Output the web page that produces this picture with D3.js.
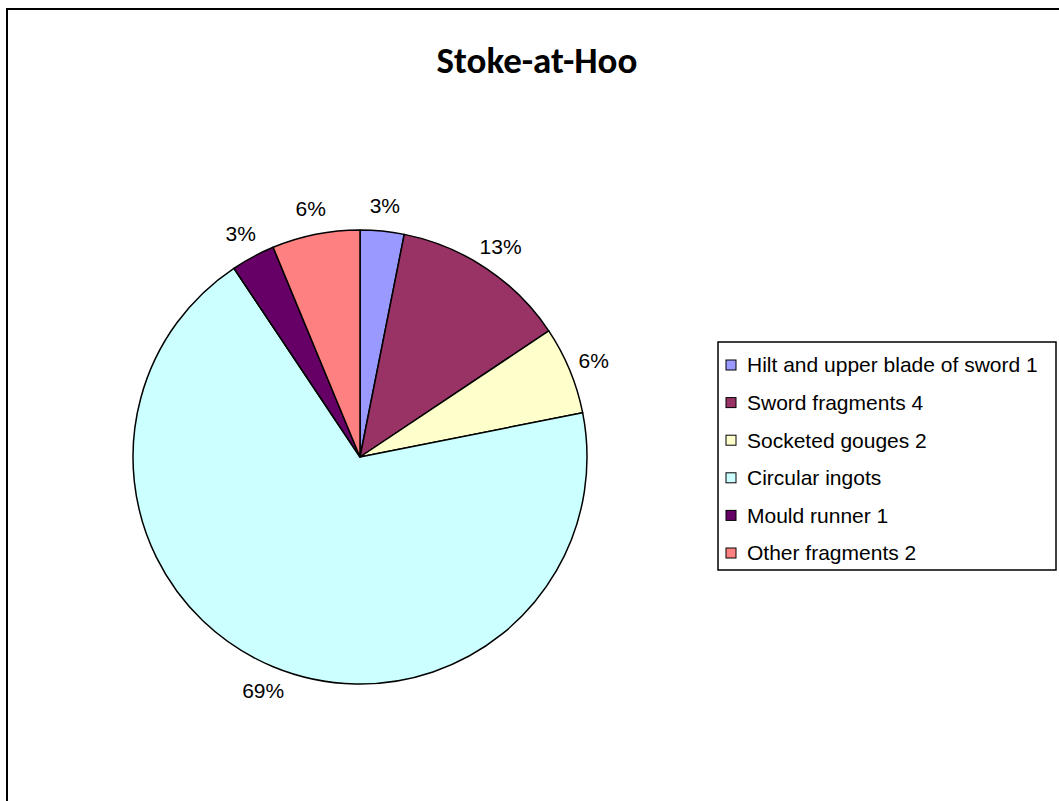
<!DOCTYPE html>
<html>
<head>
<meta charset="utf-8">
<script src="https://cdn.jsdelivr.net/npm/d3@7"></script>
<style>
  html, body { margin: 0; padding: 0; background: #fff; }
  svg { display: block; }
</style>
</head>
<body>
<svg id="chart" width="1059" height="801"></svg>
<script>
const title = "Stoke-at-Hoo";
const categories = [
  "Hilt and upper blade of sword 1",
  "Sword fragments 4",
  "Socketed gouges 2",
  "Circular ingots",
  "Mould runner 1",
  "Other fragments 2"
];
const values = [1, 4, 2, 22, 1, 2];
const colors = ["#9999FF", "#993366", "#FFFFCC", "#CCFFFF", "#660066", "#FF8080"];

const svg = d3.select("#chart");

// outer chart border (extends past the viewport on right and bottom)
svg.append("rect")
  .attr("x", 7).attr("y", 9)
  .attr("width", 1200).attr("height", 1000)
  .attr("fill", "#fff")
  .attr("stroke", "#000").attr("stroke-width", 2);

svg.append("text")
  .attr("x", 537).attr("y", 73)
  .attr("text-anchor", "middle")
  .attr("font-family", "Carlito, Lato, 'Open Sans', sans-serif")
  .attr("font-weight", "bold")
  .attr("font-size", 37)
  .attr("fill", "#000")
  .text(title);

const cx = 360, cy = 457, r = 227;
const total = d3.sum(values);
const pie = d3.pie().sort(null).value(d => d)(values);
const arc = d3.arc().innerRadius(0).outerRadius(r);
const labelArc = d3.arc().innerRadius(r + 26).outerRadius(r + 26);

const g = svg.append("g").attr("transform", `translate(${cx},${cy})`);
g.selectAll("path.slice")
  .data(pie)
  .join("path")
  .attr("class", "slice")
  .attr("d", arc)
  .attr("fill", (d, i) => colors[i])
  .attr("stroke", "#000")
  .attr("stroke-width", 1.5)
  .attr("stroke-linejoin", "round");

const fmt = v => Math.round(v / total * 100) + "%";
g.selectAll("text.lbl")
  .data(pie)
  .join("text")
  .attr("class", "lbl")
  .attr("transform", d => `translate(${labelArc.centroid(d)})`)
  .attr("text-anchor", "middle")
  .attr("dy", "0.35em")
  .attr("font-family", "'Liberation Sans', Arial, sans-serif")
  .attr("font-size", 21)
  .attr("fill", "#000")
  .text(d => fmt(d.value));

// legend
const lx = 718, ly = 342, lw = 338, lh = 228;
const lg = svg.append("g");
lg.append("rect")
  .attr("x", lx).attr("y", ly).attr("width", lw).attr("height", lh)
  .attr("fill", "#fff").attr("stroke", "#000").attr("stroke-width", 1.5);

const rowY = d3.scalePoint().domain(categories).range([ly + 23, ly + 211]);
const items = lg.selectAll("g.item").data(categories).join("g").attr("class", "item");
items.append("rect")
  .attr("x", lx + 8).attr("y", d => rowY(d) - 5)
  .attr("width", 10).attr("height", 10)
  .attr("fill", (d, i) => colors[i])
  .attr("stroke", "#000").attr("stroke-width", 1);
items.append("text")
  .attr("x", lx + 29).attr("y", d => rowY(d))
  .attr("dy", "0.35em")
  .attr("font-family", "'Liberation Sans', Arial, sans-serif")
  .attr("font-size", 21)
  .attr("fill", "#000")
  .text(d => d);
</script>
</body>
</html>
